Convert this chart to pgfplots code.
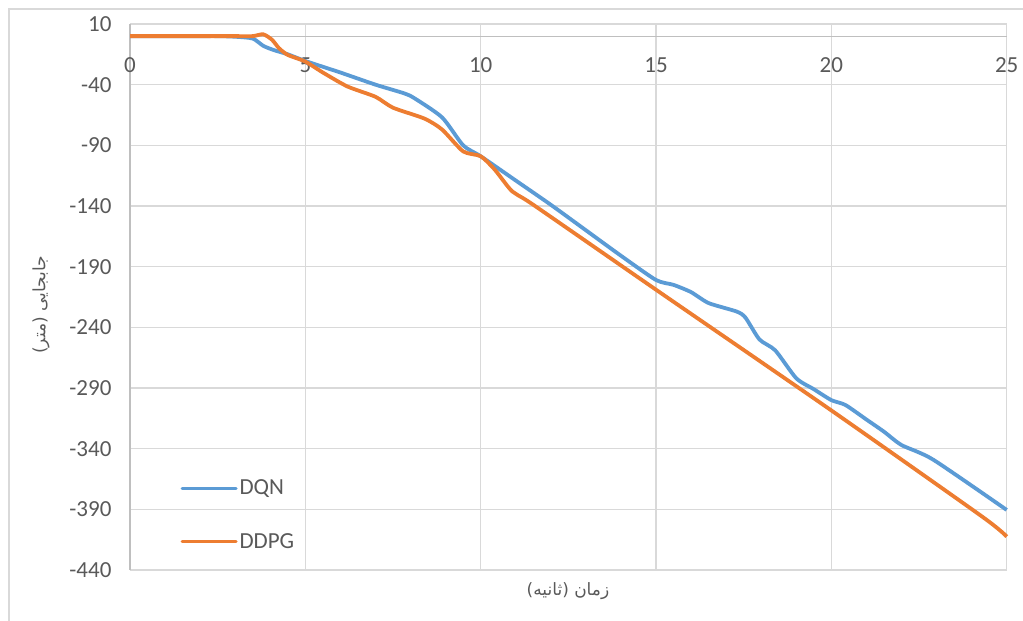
\documentclass[border=0pt]{standalone}
\usepackage{pgfplots}
\pgfplotsset{compat=1.18}
\usepackage{fontspec}
\setmainfont{Carlito}
\newfontfamily\arabicfont[Script=Arabic]{DejaVu Sans}
\TeXXeTstate=1
\definecolor{dqn}{HTML}{5B9BD5}
\definecolor{ddpg}{HTML}{ED7D31}
\definecolor{gridc}{HTML}{D9D9D9}
\definecolor{axc}{HTML}{BFBFBF}
\definecolor{txt}{HTML}{595959}
\pgfplotsset{
  every non boxed x axis/.append style={x axis line style=-},
  every non boxed y axis/.append style={y axis line style=-},
}
\begin{document}
\begin{tikzpicture}[x=1pt,y=1pt]
\useasboundingbox (0,0) rectangle (1023,621);
\draw[gridc, line width=1.2pt] (9,-10) -- (9,612) -- (1040,612);
\begin{axis}[
  at={(130pt,51pt)}, anchor=south west,
  scale only axis, width=876.7pt, height=546pt,
  xmin=0, xmax=25, ymin=-440, ymax=10,
  axis x line=middle, axis y line=left,
  axis line style={-, draw=axc, line width=1.2pt},
  hide obscured x ticks=false, hide obscured y ticks=false,
  xtick={0,5,...,25}, ytick={-440,-390,...,10},
  major tick length=0pt,
  grid=major,
  major grid style={draw=gridc, line width=1.2pt},
  /pgf/number format/assume math mode=true,
  ticklabel style={font=\fontsize{23}{27}\selectfont, text=txt},
  xticklabel style={anchor=north, yshift=-18pt},
  yticklabel style={anchor=east, xshift=-15pt},
  legend style={at={(rel axis cs:0.054,0.101)}, anchor=west, draw=none, fill=none,
    font=\fontsize{23}{27}\selectfont, text=txt, row sep=33pt},
  legend cell align=left,
  legend image code/.code={\draw[#1, line width=3pt, line cap=round] (0pt,0pt) -- (54pt,0pt);},
  clip=false,
]
\addplot[dqn, line width=3.8pt, smooth, tension=0.4] coordinates {
(0,0) (1,0) (2,0) (2.5,0) (3,-0.5) (3.5,-2) (3.8,-8) (4.1,-11.5) (4.5,-15) (5,-20.5)
(6,-30) (7,-40) (7.8,-47) (8.1,-51) (8.9,-67) (9.5,-90) (10,-99)
(11,-119) (12,-139) (13,-160) (14,-181) (15,-201)
(15.5,-205) (16,-211) (16.5,-220) (17.3,-227) (17.55,-232) (17.95,-250) (18.4,-259)
(19,-282) (19.5,-291) (20,-300) (20.4,-304) (21,-316) (21.5,-326) (22,-337) (22.9,-349) (25,-390.5)
};
\addlegendentry{DQN}
\addplot[ddpg, line width=3.8pt, smooth, tension=0.4] coordinates {
(0,0) (1,0) (2,0) (3,0) (3.5,0) (3.8,1.5) (4.05,-3) (4.25,-10) (4.5,-15.5) (5,-21) (5.5,-30)
(6.2,-41.5) (7,-50) (7.5,-59) (8.4,-68) (8.9,-77) (9.5,-95) (10,-99) (10.4,-110) (10.9,-128)
(11.5,-139) (15,-209) (20,-308.5) (24.3,-396) (25,-412.5)
};
\addlegendentry{DDPG}
\end{axis}
\node[rotate=90, text=txt, font=\arabicfont\fontsize{17}{20}\selectfont] at (41,316) {\beginR جابجایی (متر)\endR};
\node[text=txt, font=\arabicfont\fontsize{17}{20}\selectfont] at (568,30) {\beginR زمان (ثانیه)\endR};
\end{tikzpicture}
\end{document}
